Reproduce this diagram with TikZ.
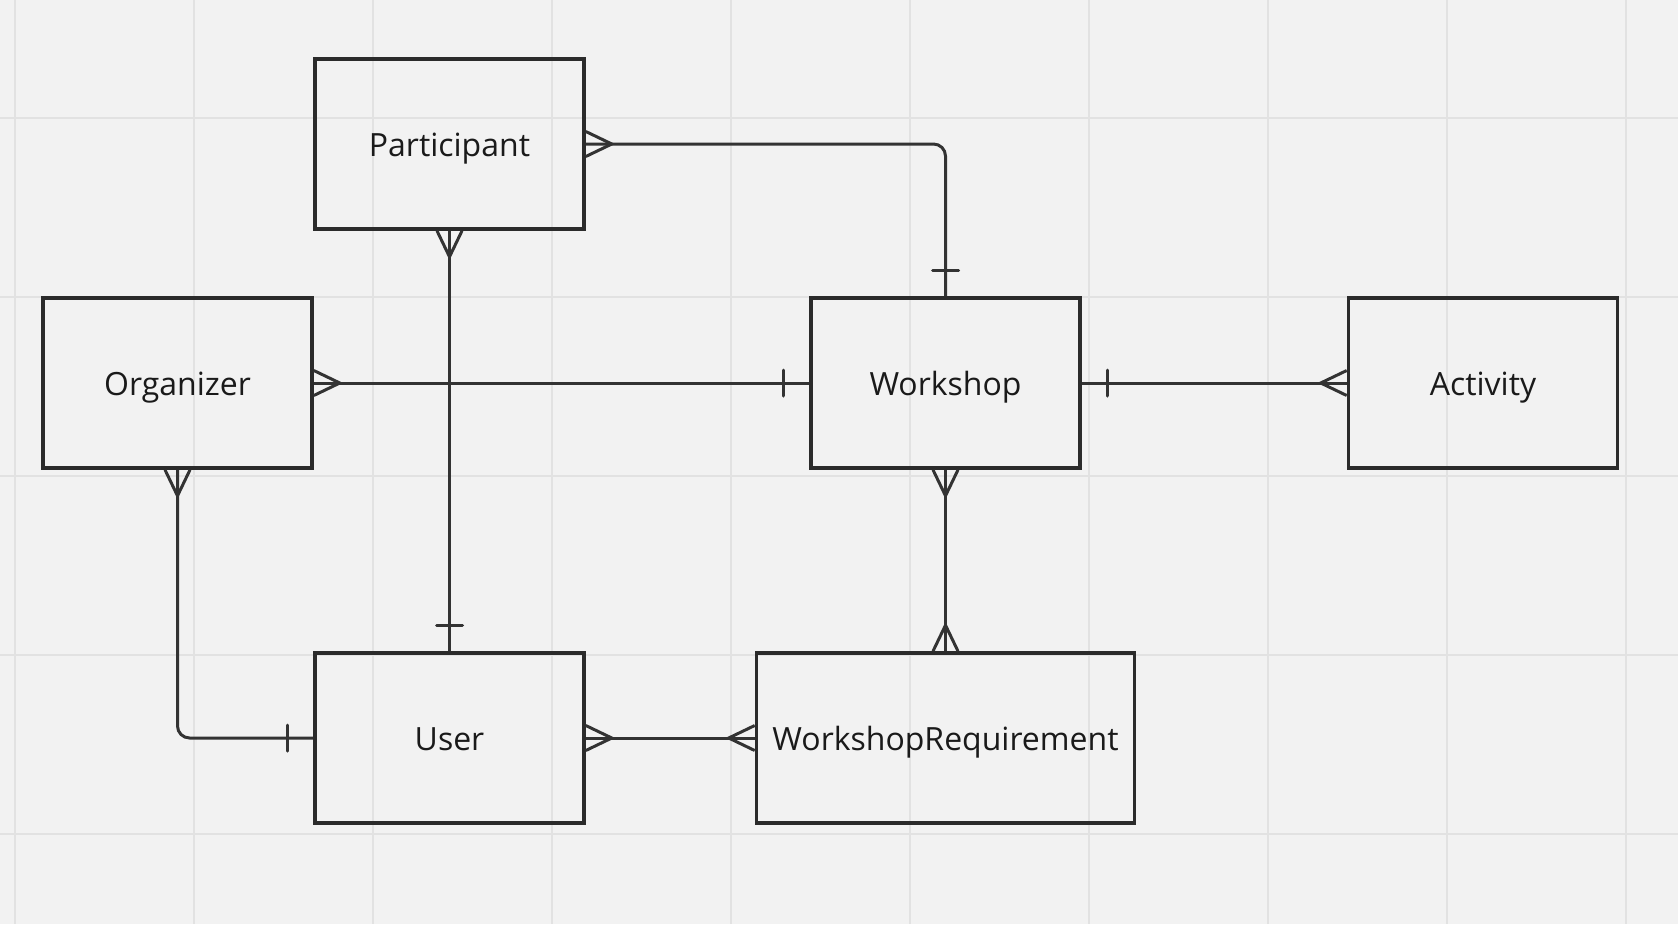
\documentclass[tikz,border=0pt]{standalone}
\usepackage{fontspec}
\setmainfont{Open Sans}
\usetikzlibrary{calc}
\definecolor{bg}{HTML}{F2F2F2}
\definecolor{gridc}{HTML}{E2E2E2}
\definecolor{boxc}{HTML}{2B2B2B}
\definecolor{linec}{HTML}{333333}
\definecolor{txtc}{HTML}{1A1A1A}
\begin{document}
\begin{tikzpicture}[x=1pt,y=-1pt,
  entity/.style={draw=boxc, line width=3.6pt, minimum width=269pt, minimum height=170pt,
    inner sep=0pt, font=\fontsize{32}{38}\selectfont, text=txtc, text height=24pt, text depth=0pt},
  conn/.style={draw=linec, line width=3pt},
  crowmany/.pic={\draw[conn, line join=miter] (0,-12.5) -- (26,0) -- (0,12.5);},
  crowone/.pic={\draw[conn, line cap=round] (26,-13) -- (26,13);}
]
\fill[bg] (0,0) rectangle (1678,924);
\useasboundingbox (0,0) rectangle (1678,924);
\foreach \i in {0,...,9} \draw[gridc, line width=2pt] ({14.5+179*\i},0) -- ({14.5+179*\i},924);
\foreach \j in {0,...,4} \draw[gridc, line width=2pt] (0,{117.7+179*\j}) -- (1678,{117.7+179*\j});

\node[entity] (P) at (449.5,144) {Participant};
\node[entity] (O) at (177.5,383) {Organizer};
\node[entity] (W) at (945.5,383) {Workshop};
\node[entity] (A) at (1483,383) {Activity};
\node[entity] (U) at (449.5,738) {User};
\node[entity, minimum width=378pt] (WR) at (945.5,738) {WorkshopRequirement};

% Participant -- Workshop
\draw[conn, rounded corners=12pt] (P.east) -| (W.north);
\pic at (P.east) {crowmany};
\pic[rotate=90] at (W.north) {crowone};
% Organizer -- Workshop
\draw[conn] (O.east) -- (W.west);
\pic at (O.east) {crowmany};
\pic[rotate=180] at (W.west) {crowone};
% Participant -- User
\draw[conn] (P.south) -- (U.north);
\pic[rotate=-90] at (P.south) {crowmany};
\pic[rotate=90] at (U.north) {crowone};
% Workshop -- Activity
\draw[conn] (W.east) -- (A.west);
\pic at (W.east) {crowone};
\pic[rotate=180] at (A.west) {crowmany};
% Workshop -- WorkshopRequirement
\draw[conn] (W.south) -- (WR.north);
\pic[rotate=-90] at (W.south) {crowmany};
\pic[rotate=90] at (WR.north) {crowmany};
% Organizer -- User
\draw[conn, rounded corners=12pt] (O.south) |- (U.west);
\pic[rotate=-90] at (O.south) {crowmany};
\pic[rotate=180] at (U.west) {crowone};
% User -- WorkshopRequirement
\draw[conn] (U.east) -- (WR.west);
\pic at (U.east) {crowmany};
\pic[rotate=180] at (WR.west) {crowmany};
\end{tikzpicture}
\end{document}
